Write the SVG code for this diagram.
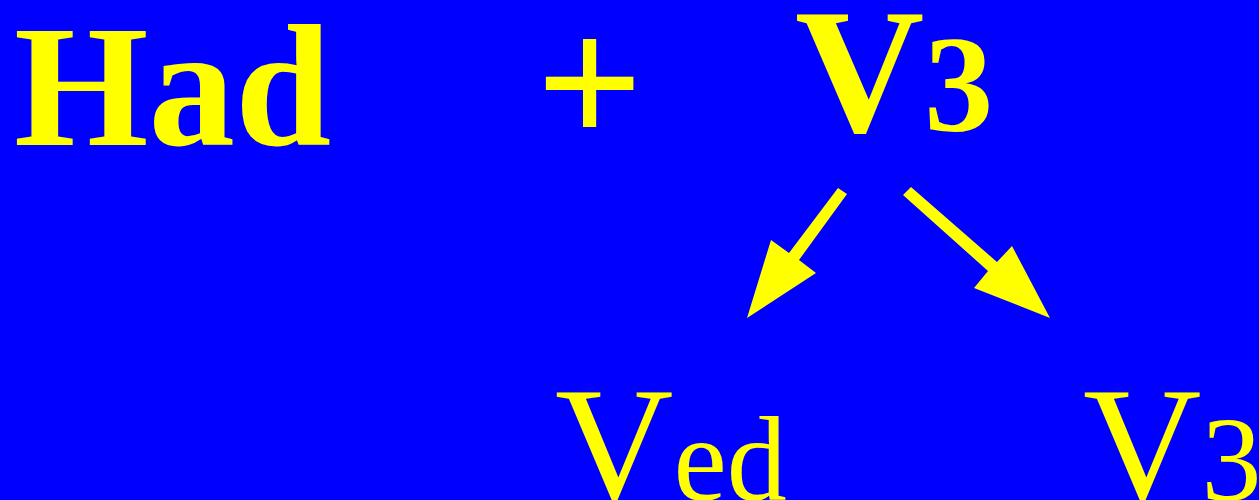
<svg xmlns="http://www.w3.org/2000/svg" width="1259" height="500" viewBox="0 0 1259 500">
  <style>
    .t { fill: #ffff00; font-family: "Liberation Serif", "Times New Roman", serif; }
    .b { font-weight: bold; }
    .arrow { fill: #ffff00; stroke: none; }
  </style>
  <rect x="0" y="0" width="1259" height="500" fill="#0000ff"/>
  <g id="had">
    <text class="t b" x="14" y="145" font-size="173">Had</text>
  </g>
  <g id="plus">
    <text class="t b" x="536" y="146" font-size="188">+</text>
  </g>
  <g id="v3-top">
    <text class="t b" x="795" y="131"><tspan font-size="179">V</tspan><tspan font-size="138">3</tspan></text>
  </g>
  <g id="connectors">
    <polygon class="arrow" points="838,188 847,194 799,260 816,273 747,318 771,240 789,253"/>
    <polygon class="arrow" points="911,187 997,262 1012,246 1050,318 974,288 988,271 903,195"/>
  </g>
  <g id="ved">
    <text class="t" x="555" y="500"><tspan font-size="164">V</tspan><tspan font-size="120">ed</tspan></text>
  </g>
  <g id="v3-bottom">
    <text class="t" x="1083" y="500"><tspan font-size="164">V</tspan><tspan font-size="120">3</tspan></text>
  </g>
</svg>
